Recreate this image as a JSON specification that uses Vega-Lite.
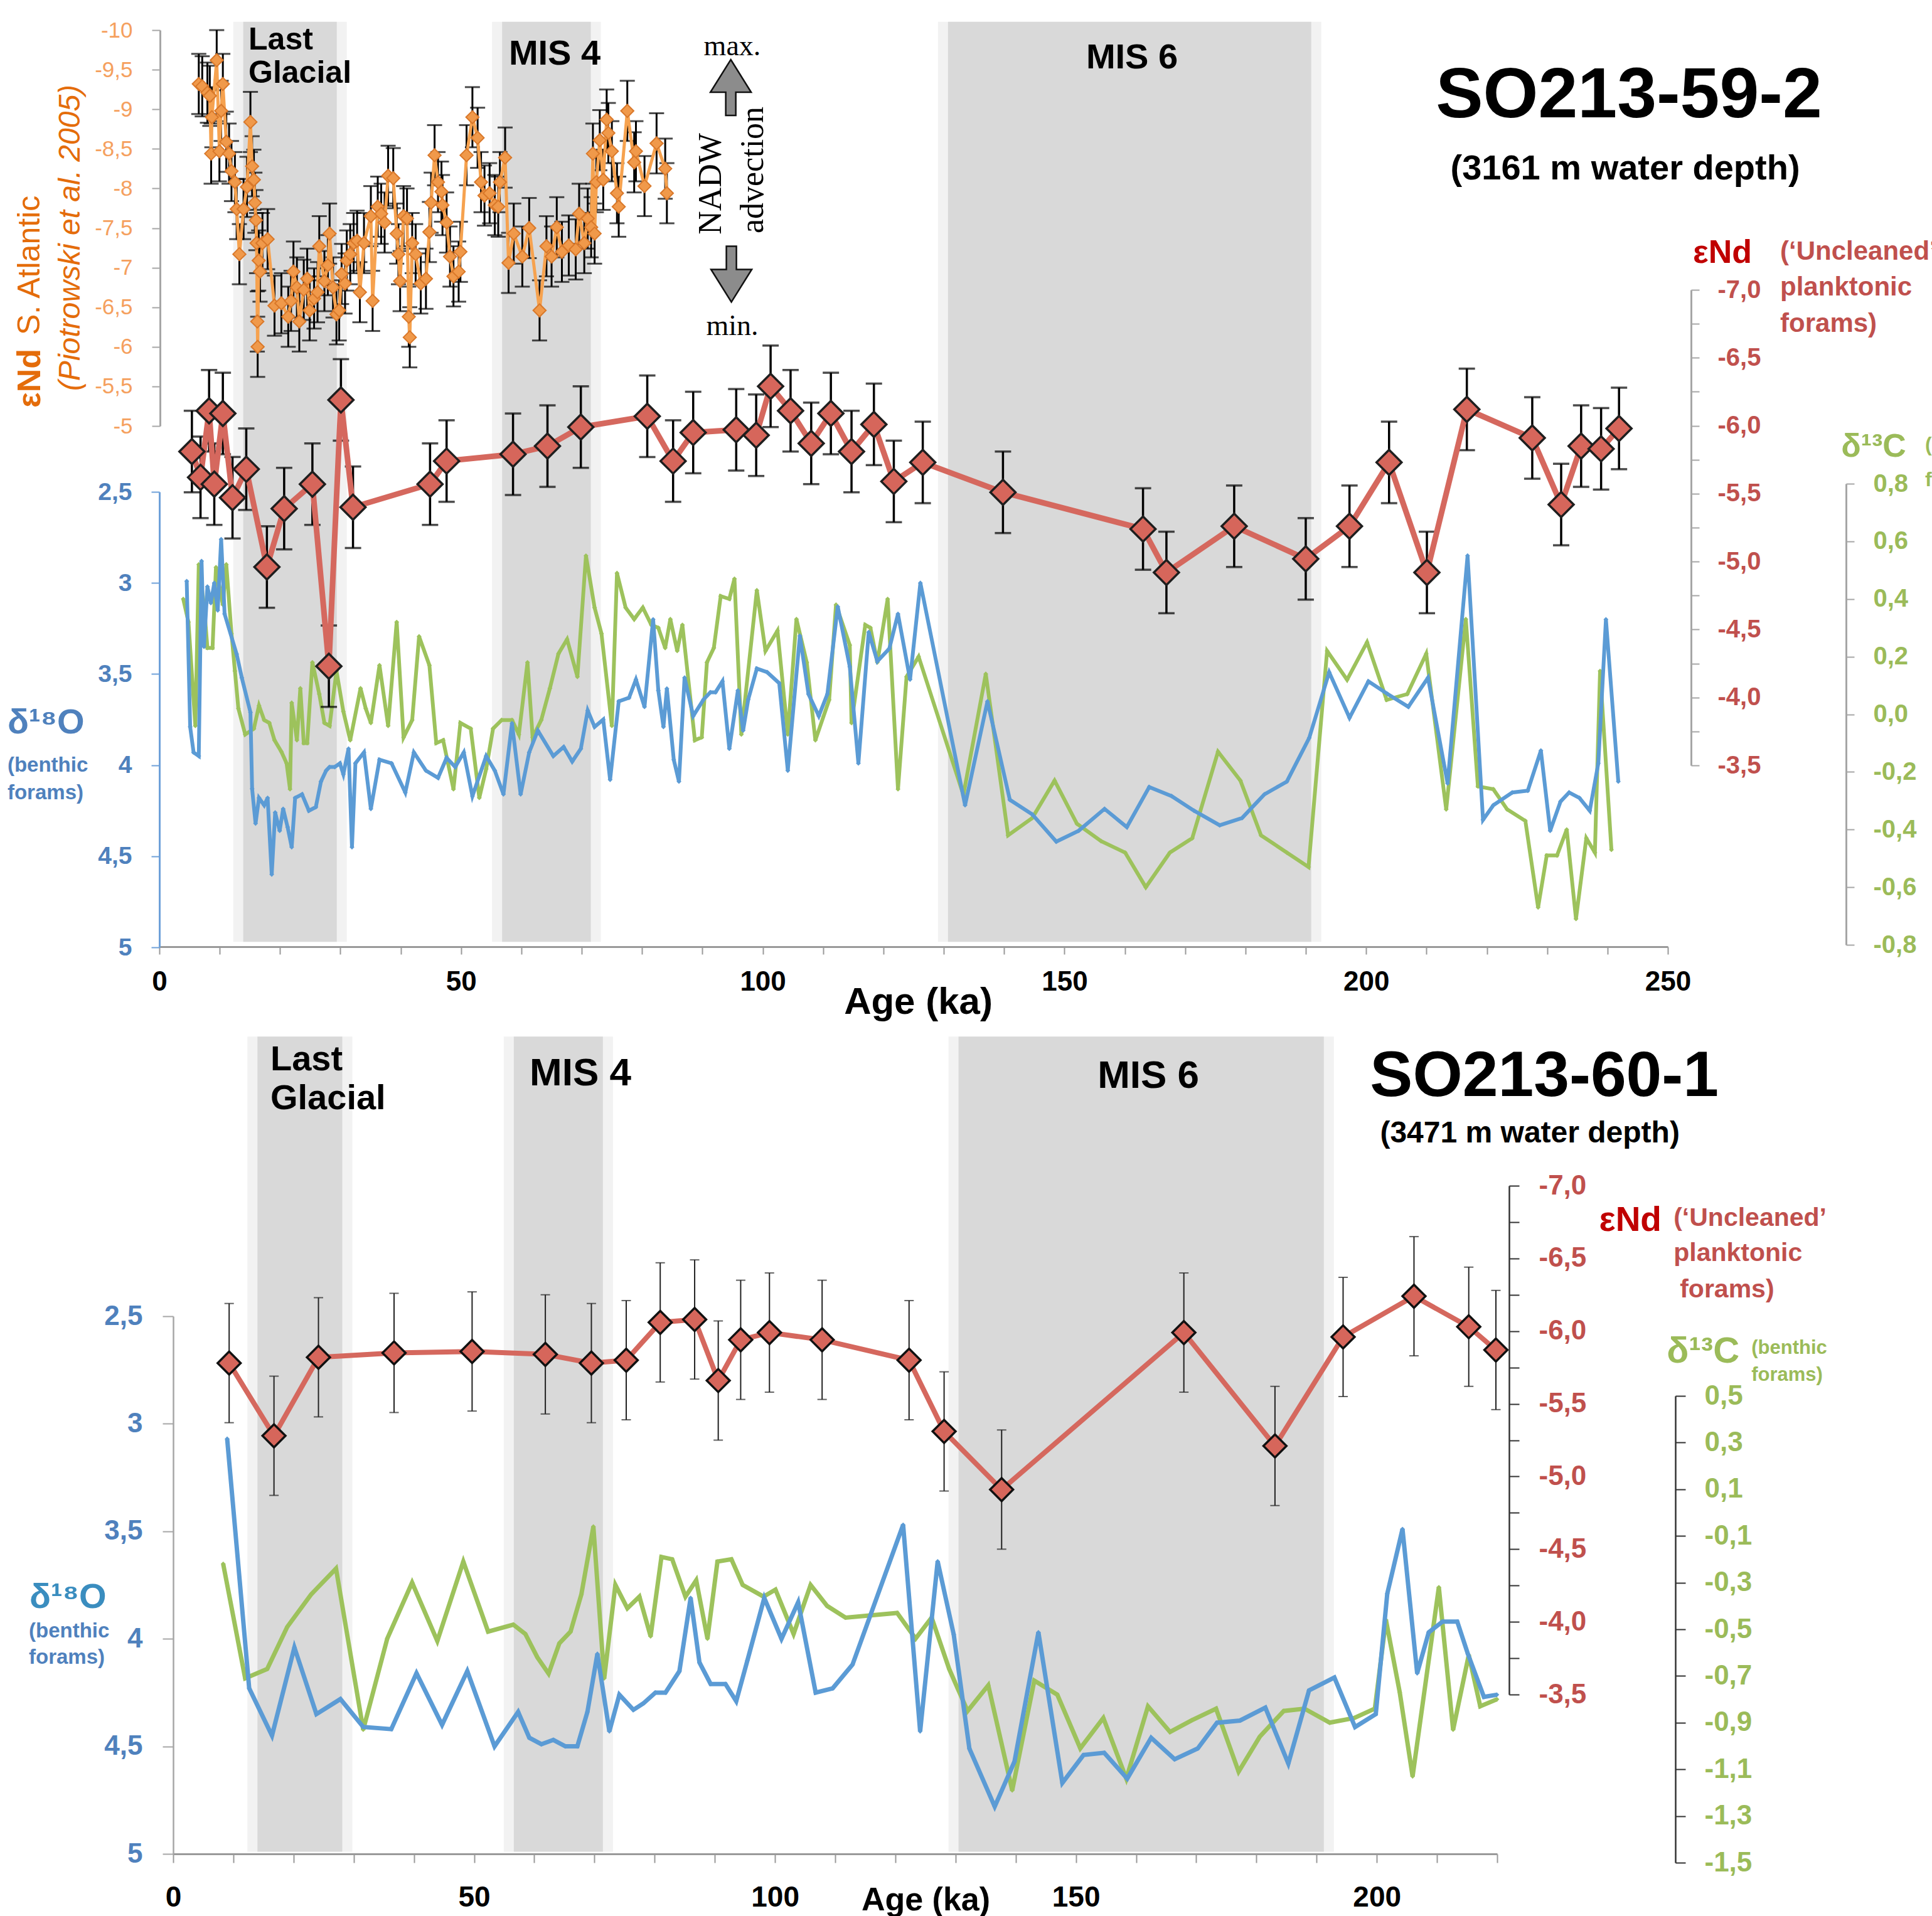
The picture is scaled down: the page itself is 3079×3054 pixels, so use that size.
{
"$schema":"https://vega.github.io/schema/vega-lite/v6.json",
"width":3079,"height":3054,"padding":0,"autosize":{"type":"none"},"background":"#ffffff",
"config":{"view":{"stroke":null},"axis":{"grid":false,"labelFont":"Liberation Sans","titleFont":"Liberation Sans","labelFlush":false,"labelOverlap":false},"text":{"font":"Liberation Sans"}},
"datasets":{
"bandsTop":[{"stage":"Last Glacial","start":13.9,"end":29.4},{"stage":"MIS 4","start":56.8,"end":71.5},{"stage":"MIS 6","start":130.7,"end":190.9}],
"bandsBot":[{"stage":"Last Glacial","start":14.0,"end":28.1},{"stage":"MIS 4","start":56.6,"end":71.4},{"stage":"MIS 6","start":130.5,"end":191.2}],
"orangeTop":[{"age":6.53,"v":-9.32,"e":0.38},{"age":7.10,"v":-9.29,"e":0.38},{"age":7.96,"v":-9.21,"e":0.38},{"age":8.36,"v":-9.17,"e":0.38},{"age":8.58,"v":-8.44,"e":0.38},{"age":8.70,"v":-8.90,"e":0.38},{"age":9.50,"v":-9.62,"e":0.38},{"age":9.95,"v":-8.47,"e":0.38},{"age":10.24,"v":-8.98,"e":0.38},{"age":10.52,"v":-9.32,"e":0.38},{"age":11.09,"v":-8.59,"e":0.38},{"age":11.55,"v":-8.44,"e":0.38},{"age":11.95,"v":-8.22,"e":0.38},{"age":12.52,"v":-8.08,"e":0.38},{"age":12.81,"v":-7.74,"e":0.38},{"age":13.26,"v":-7.17,"e":0.38},{"age":13.95,"v":-7.74,"e":0.38},{"age":14.52,"v":-8.02,"e":0.38},{"age":15.09,"v":-8.84,"e":0.38},{"age":15.37,"v":-8.28,"e":0.38},{"age":15.66,"v":-8.11,"e":0.38},{"age":15.83,"v":-7.82,"e":0.38},{"age":16.00,"v":-7.60,"e":0.38},{"age":16.11,"v":-7.31,"e":0.38},{"age":16.23,"v":-6.32,"e":0.38},{"age":16.29,"v":-6.00,"e":0.38},{"age":16.46,"v":-7.09,"e":0.38},{"age":16.68,"v":-6.95,"e":0.38},{"age":17.08,"v":-7.31,"e":0.38},{"age":17.94,"v":-7.36,"e":0.38},{"age":19.08,"v":-6.52,"e":0.38},{"age":20.22,"v":-6.55,"e":0.38},{"age":21.36,"v":-6.38,"e":0.38},{"age":21.82,"v":-6.58,"e":0.38},{"age":22.22,"v":-6.95,"e":0.38},{"age":22.79,"v":-6.75,"e":0.38},{"age":23.19,"v":-6.32,"e":0.38},{"age":23.93,"v":-6.72,"e":0.38},{"age":24.50,"v":-6.86,"e":0.38},{"age":24.90,"v":-6.46,"e":0.38},{"age":25.64,"v":-6.61,"e":0.38},{"age":26.21,"v":-6.69,"e":0.38},{"age":26.50,"v":-7.27,"e":0.38},{"age":27.35,"v":-6.83,"e":0.38},{"age":27.92,"v":-7.03,"e":0.38},{"age":28.21,"v":-7.43,"e":0.38},{"age":28.78,"v":-6.75,"e":0.38},{"age":29.35,"v":-6.41,"e":0.38},{"age":29.80,"v":-6.46,"e":0.38},{"age":30.20,"v":-6.92,"e":0.38},{"age":30.77,"v":-6.80,"e":0.38},{"age":31.06,"v":-7.09,"e":0.38},{"age":31.63,"v":-7.17,"e":0.38},{"age":32.20,"v":-7.31,"e":0.38},{"age":32.77,"v":-7.34,"e":0.38},{"age":33.23,"v":-6.69,"e":0.38},{"age":33.91,"v":-7.31,"e":0.38},{"age":35.05,"v":-7.65,"e":0.38},{"age":35.34,"v":-6.58,"e":0.38},{"age":36.19,"v":-7.77,"e":0.38},{"age":36.76,"v":-7.68,"e":0.38},{"age":37.33,"v":-7.57,"e":0.38},{"age":37.91,"v":-8.16,"e":0.38},{"age":38.76,"v":-8.13,"e":0.38},{"age":39.33,"v":-7.43,"e":0.38},{"age":39.62,"v":-7.17,"e":0.38},{"age":39.90,"v":-6.83,"e":0.38},{"age":40.47,"v":-7.65,"e":0.38},{"age":41.04,"v":-7.62,"e":0.38},{"age":41.33,"v":-6.38,"e":0.38},{"age":41.50,"v":-6.12,"e":0.38},{"age":41.90,"v":-7.31,"e":0.38},{"age":42.47,"v":-7.17,"e":0.38},{"age":43.32,"v":-6.80,"e":0.38},{"age":44.18,"v":-6.86,"e":0.38},{"age":44.75,"v":-7.45,"e":0.38},{"age":45.04,"v":-7.82,"e":0.38},{"age":45.61,"v":-8.42,"e":0.38},{"age":46.18,"v":-8.08,"e":0.38},{"age":46.75,"v":-7.96,"e":0.38},{"age":46.92,"v":-7.79,"e":0.38},{"age":47.60,"v":-7.57,"e":0.38},{"age":48.17,"v":-7.14,"e":0.38},{"age":48.74,"v":-6.89,"e":0.38},{"age":49.60,"v":-6.95,"e":0.38},{"age":49.89,"v":-7.20,"e":0.38},{"age":50.91,"v":-8.42,"e":0.38},{"age":51.88,"v":-8.90,"e":0.38},{"age":52.74,"v":-8.64,"e":0.38},{"age":53.31,"v":-8.08,"e":0.38},{"age":53.88,"v":-7.91,"e":0.38},{"age":54.73,"v":-7.94,"e":0.38},{"age":55.59,"v":-7.79,"e":0.38},{"age":56.16,"v":-7.77,"e":0.38},{"age":56.44,"v":-8.08,"e":0.38},{"age":57.30,"v":-8.39,"e":0.38},{"age":57.87,"v":-7.06,"e":0.38},{"age":58.73,"v":-7.43,"e":0.38},{"age":60.15,"v":-7.14,"e":0.38},{"age":61.29,"v":-7.50,"e":0.38},{"age":63.01,"v":-6.46,"e":0.38},{"age":64.15,"v":-7.27,"e":0.38},{"age":65.00,"v":-7.14,"e":0.38},{"age":65.86,"v":-7.51,"e":0.38},{"age":66.71,"v":-7.20,"e":0.38},{"age":67.85,"v":-7.28,"e":0.38},{"age":69.00,"v":-7.23,"e":0.38},{"age":69.57,"v":-7.68,"e":0.38},{"age":70.42,"v":-7.31,"e":0.38},{"age":70.99,"v":-7.62,"e":0.38},{"age":71.56,"v":-7.51,"e":0.38},{"age":71.85,"v":-8.44,"e":0.38},{"age":72.13,"v":-7.43,"e":0.38},{"age":72.42,"v":-8.08,"e":0.38},{"age":72.99,"v":-8.61,"e":0.38},{"age":73.56,"v":-8.11,"e":0.38},{"age":74.13,"v":-8.87,"e":0.38},{"age":74.41,"v":-8.70,"e":0.38},{"age":74.99,"v":-8.47,"e":0.38},{"age":75.84,"v":-7.94,"e":0.38},{"age":76.13,"v":-7.77,"e":0.38},{"age":77.55,"v":-8.98,"e":0.38},{"age":78.69,"v":-8.33,"e":0.38},{"age":78.98,"v":-8.47,"e":0.38},{"age":80.40,"v":-8.03,"e":0.38},{"age":82.40,"v":-8.57,"e":0.38},{"age":83.83,"v":-8.25,"e":0.38},{"age":84.11,"v":-7.94,"e":0.38}],
"redTop":[{"age":5.39,"v":-5.81,"e":0.3},{"age":6.82,"v":-5.62,"e":0.3},{"age":8.24,"v":-6.11,"e":0.3},{"age":9.10,"v":-5.57,"e":0.3},{"age":10.52,"v":-6.09,"e":0.3},{"age":12.12,"v":-5.47,"e":0.3},{"age":14.40,"v":-5.68,"e":0.3},{"age":17.82,"v":-4.96,"e":0.3},{"age":20.68,"v":-5.39,"e":0.3},{"age":25.36,"v":-5.57,"e":0.3},{"age":28.09,"v":-4.23,"e":0.3},{"age":30.09,"v":-6.19,"e":0.3},{"age":32.09,"v":-5.40,"e":0.3},{"age":44.86,"v":-5.57,"e":0.3},{"age":47.60,"v":-5.74,"e":0.3},{"age":58.61,"v":-5.79,"e":0.3},{"age":64.32,"v":-5.85,"e":0.3},{"age":69.85,"v":-5.99,"e":0.3},{"age":80.86,"v":-6.07,"e":0.3},{"age":85.14,"v":-5.74,"e":0.3},{"age":88.47,"v":-5.95,"e":0.3},{"age":95.60,"v":-5.97,"e":0.3},{"age":98.91,"v":-5.93,"e":0.3},{"age":101.30,"v":-6.29,"e":0.3},{"age":104.61,"v":-6.11,"e":0.3},{"age":108.03,"v":-5.87,"e":0.3},{"age":111.29,"v":-6.09,"e":0.3},{"age":114.71,"v":-5.81,"e":0.3},{"age":118.42,"v":-6.01,"e":0.3},{"age":121.72,"v":-5.59,"e":0.3},{"age":126.52,"v":-5.73,"e":0.3},{"age":139.81,"v":-5.51,"e":0.3},{"age":163.02,"v":-5.24,"e":0.3},{"age":166.90,"v":-4.92,"e":0.3},{"age":178.13,"v":-5.26,"e":0.3},{"age":189.99,"v":-5.02,"e":0.3},{"age":197.24,"v":-5.26,"e":0.3},{"age":203.80,"v":-5.73,"e":0.3},{"age":210.07,"v":-4.92,"e":0.3},{"age":216.69,"v":-6.12,"e":0.3},{"age":227.53,"v":-5.91,"e":0.3},{"age":232.32,"v":-5.42,"e":0.3},{"age":235.63,"v":-5.85,"e":0.3},{"age":238.94,"v":-5.83,"e":0.3},{"age":241.91,"v":-5.98,"e":0.3}],
"blueTop":[{"age":4.53,"v":2.99},{"age":5.10,"v":3.79},{"age":5.67,"v":3.93},{"age":6.53,"v":3.95},{"age":6.99,"v":2.88},{"age":7.39,"v":3.35},{"age":7.96,"v":3.02},{"age":8.53,"v":3.11},{"age":9.10,"v":3.00},{"age":9.67,"v":3.15},{"age":10.24,"v":2.76},{"age":10.81,"v":3.17},{"age":12.80,"v":3.39},{"age":13.66,"v":3.52},{"age":15.09,"v":3.71},{"age":15.37,"v":4.13},{"age":15.94,"v":4.32},{"age":16.51,"v":4.18},{"age":17.37,"v":4.22},{"age":17.94,"v":4.18},{"age":18.62,"v":4.60},{"age":19.19,"v":4.26},{"age":19.94,"v":4.36},{"age":20.51,"v":4.24},{"age":21.25,"v":4.34},{"age":21.93,"v":4.45},{"age":22.50,"v":4.18},{"age":23.64,"v":4.16},{"age":24.78,"v":4.25},{"age":25.93,"v":4.23},{"age":26.78,"v":4.09},{"age":27.64,"v":4.03},{"age":28.21,"v":4.01},{"age":29.06,"v":4.01},{"age":29.92,"v":3.99},{"age":30.49,"v":4.05},{"age":31.35,"v":3.91},{"age":31.92,"v":4.45},{"age":32.49,"v":3.99},{"age":33.91,"v":3.93},{"age":35.05,"v":4.24},{"age":36.48,"v":3.97},{"age":38.48,"v":3.99},{"age":40.76,"v":4.15},{"age":42.18,"v":3.93},{"age":44.18,"v":4.03},{"age":46.18,"v":4.07},{"age":47.60,"v":3.96},{"age":49.03,"v":4.01},{"age":50.45,"v":3.93},{"age":51.88,"v":4.17},{"age":54.16,"v":3.95},{"age":55.59,"v":4.03},{"age":57.02,"v":4.16},{"age":58.44,"v":3.77},{"age":59.87,"v":4.16},{"age":61.29,"v":3.93},{"age":62.72,"v":3.81},{"age":65.29,"v":3.95},{"age":67.00,"v":3.90},{"age":68.42,"v":3.98},{"age":69.85,"v":3.91},{"age":70.99,"v":3.70},{"age":72.13,"v":3.79},{"age":73.56,"v":3.75},{"age":74.70,"v":4.08},{"age":76.13,"v":3.65},{"age":77.84,"v":3.63},{"age":78.98,"v":3.53},{"age":80.40,"v":3.68},{"age":81.83,"v":3.20},{"age":82.69,"v":3.59},{"age":83.54,"v":3.79},{"age":84.11,"v":3.58},{"age":85.25,"v":3.97},{"age":86.11,"v":4.09},{"age":87.04,"v":3.52},{"age":88.47,"v":3.73},{"age":90.18,"v":3.64},{"age":91.32,"v":3.60},{"age":92.17,"v":3.60},{"age":93.32,"v":3.54},{"age":94.46,"v":3.91},{"age":95.88,"v":3.59},{"age":96.74,"v":3.81},{"age":97.59,"v":3.64},{"age":99.02,"v":3.47},{"age":100.73,"v":3.49},{"age":102.73,"v":3.55},{"age":104.15,"v":4.03},{"age":106.15,"v":3.29},{"age":107.58,"v":3.61},{"age":109.29,"v":3.73},{"age":110.71,"v":3.61},{"age":112.43,"v":3.13},{"age":114.42,"v":3.46},{"age":115.85,"v":3.99},{"age":117.56,"v":3.27},{"age":118.99,"v":3.43},{"age":120.98,"v":3.36},{"age":122.41,"v":3.17},{"age":124.41,"v":3.53},{"age":126.12,"v":3.00},{"age":133.53,"v":4.22},{"age":137.24,"v":3.65},{"age":140.95,"v":4.19},{"age":144.66,"v":4.27},{"age":148.65,"v":4.42},{"age":152.36,"v":4.36},{"age":156.64,"v":4.24},{"age":160.34,"v":4.34},{"age":164.05,"v":4.12},{"age":167.76,"v":4.17},{"age":171.47,"v":4.25},{"age":175.73,"v":4.33},{"age":179.44,"v":4.29},{"age":183.15,"v":4.16},{"age":186.86,"v":4.09},{"age":190.57,"v":3.85},{"age":193.87,"v":3.49},{"age":197.24,"v":3.74},{"age":200.38,"v":3.54},{"age":203.57,"v":3.61},{"age":206.99,"v":3.68},{"age":210.25,"v":3.52},{"age":213.50,"v":4.10},{"age":216.81,"v":2.85},{"age":219.37,"v":4.30},{"age":221.08,"v":4.22},{"age":224.22,"v":4.15},{"age":226.79,"v":4.14},{"age":228.96,"v":3.92},{"age":230.50,"v":4.36},{"age":232.21,"v":4.20},{"age":233.64,"v":4.15},{"age":235.35,"v":4.18},{"age":237.06,"v":4.25},{"age":238.48,"v":3.99},{"age":239.74,"v":3.20},{"age":241.79,"v":4.09}],
"greenTop":[{"age":3.96,"v":0.40},{"age":4.82,"v":0.32},{"age":5.96,"v":-0.04},{"age":6.53,"v":0.52},{"age":7.39,"v":0.38},{"age":7.96,"v":0.23},{"age":8.81,"v":0.23},{"age":9.38,"v":0.51},{"age":10.52,"v":0.38},{"age":11.09,"v":0.52},{"age":11.95,"v":0.28},{"age":12.52,"v":0.15},{"age":13.09,"v":0.02},{"age":14.23,"v":-0.07},{"age":15.66,"v":-0.05},{"age":16.51,"v":0.03},{"age":17.37,"v":-0.02},{"age":18.22,"v":-0.03},{"age":19.08,"v":-0.09},{"age":20.22,"v":-0.13},{"age":21.08,"v":-0.17},{"age":21.65,"v":-0.26},{"age":21.93,"v":0.04},{"age":22.79,"v":-0.09},{"age":23.36,"v":0.09},{"age":23.93,"v":-0.10},{"age":24.50,"v":-0.10},{"age":25.36,"v":0.18},{"age":26.50,"v":0.07},{"age":27.35,"v":-0.03},{"age":28.21,"v":-0.04},{"age":29.35,"v":0.15},{"age":30.49,"v":0.01},{"age":31.63,"v":-0.09},{"age":33.34,"v":0.09},{"age":34.20,"v":0.02},{"age":35.05,"v":-0.03},{"age":36.48,"v":0.17},{"age":37.91,"v":-0.04},{"age":39.33,"v":0.32},{"age":40.47,"v":-0.08},{"age":41.90,"v":-0.02},{"age":43.04,"v":0.27},{"age":44.75,"v":0.17},{"age":45.89,"v":-0.10},{"age":47.03,"v":-0.09},{"age":48.74,"v":-0.26},{"age":49.89,"v":-0.03},{"age":51.60,"v":-0.05},{"age":53.02,"v":-0.29},{"age":54.16,"v":-0.19},{"age":55.30,"v":-0.05},{"age":56.73,"v":-0.02},{"age":58.44,"v":-0.02},{"age":59.58,"v":-0.07},{"age":61.01,"v":0.18},{"age":61.86,"v":-0.08},{"age":63.29,"v":-0.02},{"age":64.72,"v":0.09},{"age":66.14,"v":0.21},{"age":67.57,"v":0.26},{"age":69.28,"v":0.13},{"age":70.70,"v":0.55},{"age":72.13,"v":0.37},{"age":73.27,"v":0.28},{"age":74.99,"v":-0.04},{"age":75.84,"v":0.49},{"age":77.27,"v":0.37},{"age":78.69,"v":0.33},{"age":80.12,"v":0.37},{"age":81.54,"v":0.31},{"age":82.69,"v":0.30},{"age":83.83,"v":0.23},{"age":84.68,"v":0.33},{"age":85.82,"v":0.22},{"age":86.68,"v":0.31},{"age":88.75,"v":-0.09},{"age":89.89,"v":-0.08},{"age":90.75,"v":0.18},{"age":91.89,"v":0.23},{"age":93.03,"v":0.41},{"age":94.46,"v":0.40},{"age":95.31,"v":0.47},{"age":96.45,"v":-0.07},{"age":99.02,"v":0.43},{"age":100.45,"v":0.22},{"age":102.44,"v":0.29},{"age":104.15,"v":-0.07},{"age":105.58,"v":0.33},{"age":107.29,"v":0.18},{"age":108.72,"v":-0.09},{"age":111.00,"v":0.05},{"age":112.14,"v":0.38},{"age":114.42,"v":0.24},{"age":114.71,"v":-0.03},{"age":116.99,"v":0.31},{"age":117.84,"v":0.30},{"age":118.99,"v":0.18},{"age":120.70,"v":0.40},{"age":122.41,"v":-0.26},{"age":123.83,"v":0.13},{"age":125.83,"v":0.20},{"age":133.25,"v":-0.28},{"age":136.96,"v":0.14},{"age":140.66,"v":-0.42},{"age":144.66,"v":-0.36},{"age":148.36,"v":-0.23},{"age":152.07,"v":-0.38},{"age":156.07,"v":-0.44},{"age":160.06,"v":-0.48},{"age":163.48,"v":-0.60},{"age":167.47,"v":-0.48},{"age":171.18,"v":-0.43},{"age":175.45,"v":-0.13},{"age":179.16,"v":-0.23},{"age":182.58,"v":-0.42},{"age":186.86,"v":-0.48},{"age":190.45,"v":-0.53},{"age":193.53,"v":0.22},{"age":196.84,"v":0.12},{"age":200.15,"v":0.25},{"age":203.40,"v":0.05},{"age":206.82,"v":0.07},{"age":209.96,"v":0.21},{"age":213.27,"v":-0.33},{"age":216.52,"v":0.33},{"age":218.52,"v":-0.25},{"age":221.08,"v":-0.26},{"age":223.37,"v":-0.33},{"age":226.39,"v":-0.37},{"age":228.50,"v":-0.67},{"age":229.93,"v":-0.49},{"age":231.64,"v":-0.49},{"age":233.24,"v":-0.40},{"age":234.78,"v":-0.71},{"age":236.49,"v":-0.43},{"age":237.91,"v":-0.48},{"age":238.77,"v":0.15},{"age":240.65,"v":-0.47}],
"redBot":[{"age":9.30,"v":-5.78,"e":0.41},{"age":16.75,"v":-5.28,"e":0.41},{"age":24.14,"v":-5.82,"e":0.41},{"age":36.70,"v":-5.85,"e":0.41},{"age":49.67,"v":-5.86,"e":0.41},{"age":61.84,"v":-5.84,"e":0.41},{"age":69.49,"v":-5.78,"e":0.41},{"age":75.28,"v":-5.80,"e":0.41},{"age":80.93,"v":-6.06,"e":0.41},{"age":86.65,"v":-6.08,"e":0.41},{"age":90.57,"v":-5.66,"e":0.41},{"age":94.30,"v":-5.94,"e":0.41},{"age":99.08,"v":-5.99,"e":0.41},{"age":107.83,"v":-5.94,"e":0.41},{"age":122.28,"v":-5.80,"e":0.41},{"age":128.10,"v":-5.31,"e":0.41},{"age":137.66,"v":-4.91,"e":0.41},{"age":167.94,"v":-5.99,"e":0.41},{"age":183.08,"v":-5.21,"e":0.41},{"age":194.40,"v":-5.96,"e":0.41},{"age":206.18,"v":-6.24,"e":0.41},{"age":215.28,"v":-6.03,"e":0.41},{"age":219.79,"v":-5.87,"e":0.41}],
"blueBot":[{"age":8.97,"v":3.07},{"age":12.63,"v":4.23},{"age":16.42,"v":4.45},{"age":20.14,"v":4.04},{"age":23.80,"v":4.35},{"age":27.79,"v":4.28},{"age":31.58,"v":4.41},{"age":36.24,"v":4.42},{"age":40.43,"v":4.16},{"age":44.68,"v":4.40},{"age":48.87,"v":4.15},{"age":53.40,"v":4.50},{"age":57.32,"v":4.34},{"age":59.18,"v":4.46},{"age":61.18,"v":4.49},{"age":63.17,"v":4.47},{"age":65.17,"v":4.50},{"age":67.16,"v":4.50},{"age":68.83,"v":4.34},{"age":70.49,"v":4.07},{"age":72.48,"v":4.43},{"age":74.14,"v":4.26},{"age":76.47,"v":4.33},{"age":78.14,"v":4.30},{"age":80.13,"v":4.25},{"age":81.80,"v":4.25},{"age":84.12,"v":4.15},{"age":85.98,"v":3.81},{"age":87.45,"v":4.11},{"age":89.31,"v":4.21},{"age":91.77,"v":4.21},{"age":93.56,"v":4.29},{"age":95.42,"v":4.10},{"age":98.22,"v":3.81},{"age":101.08,"v":4.00},{"age":103.85,"v":3.83},{"age":106.76,"v":4.25},{"age":109.59,"v":4.23},{"age":112.88,"v":4.12},{"age":121.29,"v":3.47},{"age":124.12,"v":4.43},{"age":127.03,"v":3.64},{"age":129.70,"v":3.98},{"age":132.30,"v":4.51},{"age":136.51,"v":4.78},{"age":139.80,"v":4.57},{"age":143.77,"v":3.97},{"age":147.75,"v":4.67},{"age":151.27,"v":4.54},{"age":154.71,"v":4.53},{"age":158.53,"v":4.65},{"age":162.51,"v":4.46},{"age":166.41,"v":4.56},{"age":170.24,"v":4.51},{"age":173.45,"v":4.39},{"age":177.27,"v":4.38},{"age":181.48,"v":4.32},{"age":185.30,"v":4.58},{"age":188.74,"v":4.24},{"age":192.95,"v":4.18},{"age":196.39,"v":4.41},{"age":199.83,"v":4.35},{"age":201.74,"v":3.79},{"age":204.27,"v":3.49},{"age":206.71,"v":4.16},{"age":208.63,"v":3.97},{"age":210.92,"v":3.92},{"age":213.37,"v":3.92},{"age":215.13,"v":4.07},{"age":217.80,"v":4.27},{"age":219.94,"v":4.26}],
"greenBot":[{"age":8.31,"v":-0.22},{"age":11.96,"v":-0.71},{"age":15.62,"v":-0.67},{"age":18.95,"v":-0.49},{"age":22.94,"v":-0.35},{"age":27.06,"v":-0.24},{"age":31.58,"v":-0.93},{"age":35.57,"v":-0.54},{"age":39.70,"v":-0.30},{"age":43.89,"v":-0.55},{"age":48.21,"v":-0.21},{"age":52.33,"v":-0.51},{"age":56.52,"v":-0.48},{"age":58.52,"v":-0.52},{"age":60.51,"v":-0.62},{"age":62.38,"v":-0.69},{"age":64.17,"v":-0.56},{"age":66.03,"v":-0.51},{"age":67.83,"v":-0.35},{"age":69.82,"v":-0.06},{"age":71.62,"v":-0.71},{"age":73.48,"v":-0.31},{"age":75.47,"v":-0.41},{"age":77.47,"v":-0.36},{"age":79.33,"v":-0.53},{"age":81.13,"v":-0.19},{"age":82.92,"v":-0.20},{"age":85.12,"v":-0.36},{"age":86.91,"v":-0.29},{"age":88.78,"v":-0.54},{"age":90.44,"v":-0.21},{"age":92.76,"v":-0.20},{"age":94.63,"v":-0.31},{"age":98.09,"v":-0.36},{"age":100.08,"v":-0.33},{"age":103.09,"v":-0.52},{"age":105.92,"v":-0.31},{"age":108.67,"v":-0.40},{"age":111.73,"v":-0.45},{"age":120.30,"v":-0.43},{"age":123.36,"v":-0.54},{"age":126.03,"v":-0.45},{"age":128.94,"v":-0.67},{"age":132.00,"v":-0.85},{"age":135.44,"v":-0.74},{"age":139.42,"v":-1.19},{"age":143.09,"v":-0.72},{"age":146.91,"v":-0.78},{"age":150.73,"v":-1.01},{"age":154.56,"v":-0.88},{"age":158.38,"v":-1.14},{"age":161.98,"v":-0.83},{"age":165.65,"v":-0.94},{"age":169.24,"v":-0.89},{"age":173.29,"v":-0.84},{"age":177.04,"v":-1.11},{"age":180.56,"v":-0.96},{"age":184.54,"v":-0.85},{"age":187.98,"v":-0.84},{"age":192.18,"v":-0.90},{"age":196.24,"v":-0.88},{"age":199.68,"v":-0.84},{"age":201.52,"v":-0.46},{"age":203.81,"v":-0.77},{"age":205.95,"v":-1.13},{"age":210.31,"v":-0.32},{"age":212.68,"v":-0.93},{"age":215.28,"v":-0.61},{"age":217.19,"v":-0.83},{"age":219.95,"v":-0.80}]
},
"layer":[
{"data":{"name":"bandsTop"},"mark":{"type":"rect","color":"#F2F2F2","xOffset":-16,"x2Offset":16},"encoding":{"x":{"field":"start","type":"quantitative","scale":{"domain":[0,250],"range":[254,2658],"nice":false,"zero":false},"axis":null},"x2":{"field":"end"},"y":{"datum":4.97,"type":"quantitative","scale":{"domain":[2.5,5],"range":[784,1510],"nice":false,"zero":false},"axis":null},"y2":{"datum":-0.08}}},
{"data":{"name":"bandsTop"},"mark":{"type":"rect","color":"#D9D9D9"},"encoding":{"x":{"field":"start","type":"quantitative","scale":{"domain":[0,250],"range":[254,2658],"nice":false,"zero":false},"axis":null},"x2":{"field":"end"},"y":{"datum":4.97,"type":"quantitative","scale":{"domain":[2.5,5],"range":[784,1510],"nice":false,"zero":false},"axis":null},"y2":{"datum":-0.08}}},
{"data":{"name":"greenTop"},"mark":{"type":"line","color":"#9DC25C","strokeWidth":6},"encoding":{"x":{"field":"age","type":"quantitative","scale":{"domain":[0,250],"range":[254,2658],"nice":false,"zero":false},"axis":null},"y":{"field":"v","type":"quantitative","scale":{"domain":[-0.8,0.8],"range":[1506,771],"nice":false,"zero":false},"axis":{"orient":"right","offset":-137,"values":[-0.8,-0.6,-0.4,-0.2,0,0.2,0.4,0.6,0.8],"labelExpr":"replace(replace(format(datum.value,'.1f'),'−','-'),'.',',')","title":null,"labelColor":"#9BBB59","labelFontSize":40,"labelFontWeight":"bold","tickSize":13,"tickWidth":2,"tickColor":"#A6A6A6","domainColor":"#A6A6A6","domainWidth":3,"labelPadding":30}}}},
{"data":{"name":"greenTop"},"mark":{"type":"point","shape":"diamond","filled":true,"color":"#9DC25C","size":60,"opacity":1},"encoding":{"x":{"field":"age","type":"quantitative","scale":{"domain":[0,250],"range":[254,2658],"nice":false,"zero":false},"axis":null},"y":{"field":"v","type":"quantitative","scale":{"domain":[-0.8,0.8],"range":[1506,771],"nice":false,"zero":false},"axis":null}}},
{"data":{"name":"blueTop"},"mark":{"type":"line","color":"#5B9BD5","strokeWidth":6},"encoding":{"x":{"field":"age","type":"quantitative","scale":{"domain":[0,250],"range":[254,2658],"nice":false,"zero":false},"axis":{"orient":"bottom","offset":-1545,"values":[0,10,20,30,40,50,60,70,80,90,100,110,120,130,140,150,160,170,180,190,200,210,220,230,240,250],"labelExpr":"datum.value % 50 === 0 ? datum.label : ''","title":"Age (ka)","titleX":1463,"titleY":88,"titleBaseline":"middle","titleAlign":"center","titleFontSize":60,"titleFontWeight":"bold","titleColor":"#000000","labelFontSize":44,"labelFontWeight":"bold","labelColor":"#000000","labelBaseline":"middle","labelPadding":44,"tickSize":12,"tickWidth":2,"tickColor":"#999999","domainColor":"#999999","domainWidth":3}},"y":{"field":"v","type":"quantitative","scale":{"domain":[2.5,5],"range":[784,1510],"nice":false,"zero":false},"axis":{"orient":"left","offset":-254,"values":[2.5,3,3.5,4,4.5,5],"labelExpr":"replace(replace(format(datum.value,'~g'),'−','-'),'.',',')","title":null,"labelColor":"#4F81BD","labelFontSize":39,"labelFontWeight":"bold","tickSize":13,"tickWidth":2,"tickColor":"#6FA1D9","domainColor":"#6FA1D9","domainWidth":3,"labelPadding":31}}}},
{"data":{"name":"blueTop"},"mark":{"type":"point","shape":"diamond","filled":true,"color":"#5B9BD5","size":60,"opacity":1},"encoding":{"x":{"field":"age","type":"quantitative","scale":{"domain":[0,250],"range":[254,2658],"nice":false,"zero":false},"axis":null},"y":{"field":"v","type":"quantitative","scale":{"domain":[2.5,5],"range":[784,1510],"nice":false,"zero":false},"axis":null}}},
{"data":{"name":"orangeTop"},"mark":{"type":"errorbar","ticks":true,"size":24,"thickness":3,"color":"#000000"},"encoding":{"x":{"field":"age","type":"quantitative","scale":{"domain":[0,250],"range":[254,2658],"nice":false,"zero":false},"axis":null},"y":{"field":"v","type":"quantitative","scale":{"domain":[-10,-5],"range":[48,679],"nice":false,"zero":false},"axis":null},"yError":{"field":"e"}}},
{"data":{"name":"orangeTop"},"mark":{"type":"line","color":"#F6A24F","strokeWidth":5},"encoding":{"x":{"field":"age","type":"quantitative","scale":{"domain":[0,250],"range":[254,2658],"nice":false,"zero":false},"axis":null},"y":{"field":"v","type":"quantitative","scale":{"domain":[-10,-5],"range":[48,679],"nice":false,"zero":false},"axis":{"orient":"left","offset":-255,"values":[-10,-9.5,-9,-8.5,-8,-7.5,-7,-6.5,-6,-5.5,-5],"labelExpr":"replace(replace(format(datum.value,'~g'),'−','-'),'.',',')","title":null,"labelColor":"#F5A05E","labelFontSize":35,"labelFontWeight":"normal","tickSize":13,"tickWidth":2,"tickColor":"#A6A6A6","domainColor":"#A6A6A6","domainWidth":3,"labelPadding":31}}}},
{"data":{"name":"orangeTop"},"mark":{"type":"point","shape":"diamond","filled":true,"color":"#F0994A","stroke":"#D9782A","strokeWidth":2,"size":420,"opacity":1},"encoding":{"x":{"field":"age","type":"quantitative","scale":{"domain":[0,250],"range":[254,2658],"nice":false,"zero":false},"axis":null},"y":{"field":"v","type":"quantitative","scale":{"domain":[-10,-5],"range":[48,679],"nice":false,"zero":false},"axis":null}}},
{"data":{"name":"redTop"},"mark":{"type":"errorbar","ticks":true,"size":26,"thickness":3.5,"color":"#000000"},"encoding":{"x":{"field":"age","type":"quantitative","scale":{"domain":[0,250],"range":[254,2658],"nice":false,"zero":false},"axis":null},"y":{"field":"v","type":"quantitative","scale":{"domain":[-7,-3.5],"range":[462,1220],"nice":false,"zero":false},"axis":null},"yError":{"field":"e"}}},
{"data":{"name":"redTop"},"mark":{"type":"line","color":"#D5685E","strokeWidth":9},"encoding":{"x":{"field":"age","type":"quantitative","scale":{"domain":[0,250],"range":[254,2658],"nice":false,"zero":false},"axis":null},"y":{"field":"v","type":"quantitative","scale":{"domain":[-7,-3.5],"range":[462,1220],"nice":false,"zero":false},"axis":{"orient":"right","offset":-384,"values":[-7,-6.75,-6.5,-6.25,-6,-5.75,-5.5,-5.25,-5,-4.75,-4.5,-4.25,-4,-3.75,-3.5],"labelExpr":"abs(datum.value*2-round(datum.value*2))<0.001 ? replace(replace(format(datum.value,'.1f'),'−','-'),'.',',') : ''","title":null,"labelColor":"#C0504D","labelFontSize":40,"labelFontWeight":"bold","tickSize":13,"tickWidth":2,"tickColor":"#A6A6A6","domainColor":"#A6A6A6","domainWidth":3,"labelPadding":29}}}},
{"data":{"name":"redTop"},"mark":{"type":"point","shape":"diamond","filled":true,"color":"#D6665B","stroke":"#1E1E1E","strokeWidth":3.5,"size":1600,"opacity":1},"encoding":{"x":{"field":"age","type":"quantitative","scale":{"domain":[0,250],"range":[254,2658],"nice":false,"zero":false},"axis":null},"y":{"field":"v","type":"quantitative","scale":{"domain":[-7,-3.5],"range":[462,1220],"nice":false,"zero":false},"axis":null}}},
{"data":{"values":[{"dir":"up","age":94.7,"v":-9.275},{"dir":"down","age":94.8,"v":-6.918}]},"mark":{"type":"point","filled":true,"fill":"#8C8C8C","stroke":"#111111","strokeWidth":2.5,"size":7921,"opacity":1},"encoding":{"x":{"field":"age","type":"quantitative","scale":{"domain":[0,250],"range":[254,2658],"nice":false,"zero":false},"axis":null},"y":{"field":"v","type":"quantitative","scale":{"domain":[-10,-5],"range":[48,679],"nice":false,"zero":false},"axis":null},"shape":{"field":"dir","type":"nominal","scale":{"domain":["up","down"],"range":["M0,-1L0.73,0.17L0.18,0.17L0.18,1L-0.18,1L-0.18,0.17L-0.73,0.17Z","M0,1L0.73,-0.17L0.18,-0.17L0.18,-1L-0.18,-1L-0.18,-0.17L-0.73,-0.17Z"]},"legend":null}}},
{"data":{"values":[{"t":"Last","age":14.77,"v":-9.873},{"t":"Glacial","age":14.77,"v":-9.453}]},"mark":{"type":"text","fontSize":50,"fontWeight":"bold","color":"#000000","align":"left","baseline":"middle"},"encoding":{"x":{"field":"age","type":"quantitative","scale":{"domain":[0,250],"range":[254,2658],"nice":false,"zero":false},"axis":null},"y":{"field":"v","type":"quantitative","scale":{"domain":[-10,-5],"range":[48,679],"nice":false,"zero":false},"axis":null},"text":{"field":"t"}}},
{"data":{"values":[{"t":"MIS 4","age":65.52,"v":-9.699},{"t":"MIS 6","age":161.19,"v":-9.651}]},"mark":{"type":"text","fontSize":56,"fontWeight":"bold","color":"#000000","align":"center","baseline":"middle"},"encoding":{"x":{"field":"age","type":"quantitative","scale":{"domain":[0,250],"range":[254,2658],"nice":false,"zero":false},"axis":null},"y":{"field":"v","type":"quantitative","scale":{"domain":[-10,-5],"range":[48,679],"nice":false,"zero":false},"axis":null},"text":{"field":"t"}}},
{"data":{"values":[{"t":"max.","age":94.94,"v":-9.794},{"t":"min.","age":94.94,"v":-6.26}]},"mark":{"type":"text","font":"Liberation Serif","fontSize":46,"color":"#000000","align":"center","baseline":"middle"},"encoding":{"x":{"field":"age","type":"quantitative","scale":{"domain":[0,250],"range":[254,2658],"nice":false,"zero":false},"axis":null},"y":{"field":"v","type":"quantitative","scale":{"domain":[-10,-5],"range":[48,679],"nice":false,"zero":false},"axis":null},"text":{"field":"t"}}},
{"data":{"values":[{"t":"NADW","age":91.41,"v":-8.059},{"t":"advection","age":98.38,"v":-8.233}]},"mark":{"type":"text","font":"Liberation Serif","fontSize":52,"color":"#000000","align":"center","baseline":"middle","angle":270},"encoding":{"x":{"field":"age","type":"quantitative","scale":{"domain":[0,250],"range":[254,2658],"nice":false,"zero":false},"axis":null},"y":{"field":"v","type":"quantitative","scale":{"domain":[-10,-5],"range":[48,679],"nice":false,"zero":false},"axis":null},"text":{"field":"t"}}},
{"data":{"values":[{"t":"SO213-59-2","age":243.55,"v":-9.168}]},"mark":{"type":"text","fontSize":113,"fontWeight":"bold","color":"#000000","align":"center","baseline":"middle"},"encoding":{"x":{"field":"age","type":"quantitative","scale":{"domain":[0,250],"range":[254,2658],"nice":false,"zero":false},"axis":null},"y":{"field":"v","type":"quantitative","scale":{"domain":[-10,-5],"range":[48,679],"nice":false,"zero":false},"axis":null},"text":{"field":"t"}}},
{"data":{"values":[{"t":"(3161 m water depth)","age":242.93,"v":-8.249}]},"mark":{"type":"text","fontSize":56,"fontWeight":"bold","color":"#000000","align":"center","baseline":"middle"},"encoding":{"x":{"field":"age","type":"quantitative","scale":{"domain":[0,250],"range":[254,2658],"nice":false,"zero":false},"axis":null},"y":{"field":"v","type":"quantitative","scale":{"domain":[-10,-5],"range":[48,679],"nice":false,"zero":false},"axis":null},"text":{"field":"t"}}},
{"data":{"values":[{"t":"εNd","age":259.05,"v":-7.187}]},"mark":{"type":"text","fontSize":52,"fontWeight":"bold","color":"#C00000","align":"center","baseline":"middle"},"encoding":{"x":{"field":"age","type":"quantitative","scale":{"domain":[0,250],"range":[254,2658],"nice":false,"zero":false},"axis":null},"y":{"field":"v","type":"quantitative","scale":{"domain":[-10,-5],"range":[48,679],"nice":false,"zero":false},"axis":null},"text":{"field":"t"}}},
{"data":{"values":[{"t":"(‘Uncleaned’","age":268.62,"v":-7.203},{"t":"planktonic","age":268.62,"v":-6.751},{"t":"forams)","age":268.62,"v":-6.292}]},"mark":{"type":"text","fontSize":42,"fontWeight":"bold","color":"#C0504D","align":"left","baseline":"middle"},"encoding":{"x":{"field":"age","type":"quantitative","scale":{"domain":[0,250],"range":[254,2658],"nice":false,"zero":false},"axis":null},"y":{"field":"v","type":"quantitative","scale":{"domain":[-10,-5],"range":[48,679],"nice":false,"zero":false},"axis":null},"text":{"field":"t"}}},
{"data":{"values":[{"t":"δ¹³C","age":284.11,"v":-4.739}]},"mark":{"type":"text","fontSize":52,"fontWeight":"bold","color":"#9BBB59","align":"center","baseline":"middle"},"encoding":{"x":{"field":"age","type":"quantitative","scale":{"domain":[0,250],"range":[254,2658],"nice":false,"zero":false},"axis":null},"y":{"field":"v","type":"quantitative","scale":{"domain":[-10,-5],"range":[48,679],"nice":false,"zero":false},"axis":null},"text":{"field":"t"}}},
{"data":{"values":[{"t":"(benthic","age":292.64,"v":-4.762},{"t":"forams)","age":292.64,"v":-4.319}]},"mark":{"type":"text","fontSize":32,"fontWeight":"bold","color":"#9BBB59","align":"left","baseline":"middle"},"encoding":{"x":{"field":"age","type":"quantitative","scale":{"domain":[0,250],"range":[254,2658],"nice":false,"zero":false},"axis":null},"y":{"field":"v","type":"quantitative","scale":{"domain":[-10,-5],"range":[48,679],"nice":false,"zero":false},"axis":null},"text":{"field":"t"}}},
{"data":{"values":[{"t":"εNd","age":-21.42,"v":-5.602}]},"mark":{"type":"text","fontSize":52,"fontWeight":"bold","color":"#E46C0A","align":"center","baseline":"middle","angle":270},"encoding":{"x":{"field":"age","type":"quantitative","scale":{"domain":[0,250],"range":[254,2658],"nice":false,"zero":false},"axis":null},"y":{"field":"v","type":"quantitative","scale":{"domain":[-10,-5],"range":[48,679],"nice":false,"zero":false},"axis":null},"text":{"field":"t"}}},
{"data":{"values":[{"t":"S. Atlantic","age":-21.42,"v":-7.029}]},"mark":{"type":"text","fontSize":50,"color":"#E46C0A","align":"center","baseline":"middle","angle":270},"encoding":{"x":{"field":"age","type":"quantitative","scale":{"domain":[0,250],"range":[254,2658],"nice":false,"zero":false},"axis":null},"y":{"field":"v","type":"quantitative","scale":{"domain":[-10,-5],"range":[48,679],"nice":false,"zero":false},"axis":null},"text":{"field":"t"}}},
{"data":{"values":[{"t":"(Piotrowski et al. 2005)","age":-14.66,"v":-7.377}]},"mark":{"type":"text","fontSize":48,"fontStyle":"italic","color":"#E46C0A","align":"center","baseline":"middle","angle":270},"encoding":{"x":{"field":"age","type":"quantitative","scale":{"domain":[0,250],"range":[254,2658],"nice":false,"zero":false},"axis":null},"y":{"field":"v","type":"quantitative","scale":{"domain":[-10,-5],"range":[48,679],"nice":false,"zero":false},"axis":null},"text":{"field":"t"}}},
{"data":{"values":[{"t":"δ¹⁸O","age":-25.17,"v":-1.252}]},"mark":{"type":"text","fontSize":56,"fontWeight":"bold","color":"#4F81BD","align":"left","baseline":"middle"},"encoding":{"x":{"field":"age","type":"quantitative","scale":{"domain":[0,250],"range":[254,2658],"nice":false,"zero":false},"axis":null},"y":{"field":"v","type":"quantitative","scale":{"domain":[-10,-5],"range":[48,679],"nice":false,"zero":false},"axis":null},"text":{"field":"t"}}},
{"data":{"values":[{"t":"(benthic","age":-25.17,"v":-0.713},{"t":"forams)","age":-25.17,"v":-0.365}]},"mark":{"type":"text","fontSize":33,"fontWeight":"bold","color":"#4F81BD","align":"left","baseline":"middle"},"encoding":{"x":{"field":"age","type":"quantitative","scale":{"domain":[0,250],"range":[254,2658],"nice":false,"zero":false},"axis":null},"y":{"field":"v","type":"quantitative","scale":{"domain":[-10,-5],"range":[48,679],"nice":false,"zero":false},"axis":null},"text":{"field":"t"}}},
{"data":{"name":"bandsBot"},"mark":{"type":"rect","color":"#F2F2F2","xOffset":-16,"x2Offset":16},"encoding":{"x":{"field":"start","type":"quantitative","scale":{"domain":[0,220],"range":[276,2386],"nice":false,"zero":false},"axis":null},"x2":{"field":"end"},"y":{"datum":4.99,"type":"quantitative","scale":{"domain":[2.5,5],"range":[2098,2955],"nice":false,"zero":false},"axis":null},"y2":{"datum":1.2}}},
{"data":{"name":"bandsBot"},"mark":{"type":"rect","color":"#D9D9D9"},"encoding":{"x":{"field":"start","type":"quantitative","scale":{"domain":[0,220],"range":[276,2386],"nice":false,"zero":false},"axis":null},"x2":{"field":"end"},"y":{"datum":4.99,"type":"quantitative","scale":{"domain":[2.5,5],"range":[2098,2955],"nice":false,"zero":false},"axis":null},"y2":{"datum":1.2}}},
{"data":{"name":"greenBot"},"mark":{"type":"line","color":"#9DC25C","strokeWidth":7},"encoding":{"x":{"field":"age","type":"quantitative","scale":{"domain":[0,220],"range":[276,2386],"nice":false,"zero":false},"axis":null},"y":{"field":"v","type":"quantitative","scale":{"domain":[-1.5,0.5],"range":[2969,2225],"nice":false,"zero":false},"axis":{"orient":"right","offset":-409,"values":[-1.5,-1.3,-1.1,-0.9,-0.7,-0.5,-0.3,-0.1,0.1,0.3,0.5],"labelExpr":"replace(replace(format(datum.value,'.1f'),'−','-'),'.',',')","title":null,"labelColor":"#9BBB59","labelFontSize":44,"labelFontWeight":"bold","tickSize":16,"tickWidth":2,"tickColor":"#333333","domainColor":"#333333","domainWidth":2.5,"labelPadding":30}}}},
{"data":{"name":"greenBot"},"mark":{"type":"point","shape":"diamond","filled":true,"color":"#9DC25C","size":60,"opacity":1},"encoding":{"x":{"field":"age","type":"quantitative","scale":{"domain":[0,220],"range":[276,2386],"nice":false,"zero":false},"axis":null},"y":{"field":"v","type":"quantitative","scale":{"domain":[-1.5,0.5],"range":[2969,2225],"nice":false,"zero":false},"axis":null}}},
{"data":{"name":"blueBot"},"mark":{"type":"line","color":"#5B9BD5","strokeWidth":7},"encoding":{"x":{"field":"age","type":"quantitative","scale":{"domain":[0,220],"range":[276,2386],"nice":false,"zero":false},"axis":{"orient":"bottom","offset":-99,"values":[0,10,20,30,40,50,60,70,80,90,100,110,120,130,140,150,160,170,180,190,200,210,220],"labelExpr":"datum.value % 50 === 0 ? datum.label : ''","title":"Age (ka)","titleX":1475,"titleY":73,"titleBaseline":"middle","titleAlign":"center","titleFontSize":52,"titleFontWeight":"bold","titleColor":"#000000","labelFontSize":46,"labelFontWeight":"bold","labelColor":"#000000","labelBaseline":"middle","labelPadding":55,"tickSize":14,"tickWidth":2,"tickColor":"#999999","domainColor":"#999999","domainWidth":3}},"y":{"field":"v","type":"quantitative","scale":{"domain":[2.5,5],"range":[2098,2955],"nice":false,"zero":false},"axis":{"orient":"left","offset":-276,"values":[2.5,3,3.5,4,4.5,5],"labelExpr":"replace(replace(format(datum.value,'~g'),'−','-'),'.',',')","title":null,"labelColor":"#4F81BD","labelFontSize":44,"labelFontWeight":"bold","tickSize":17,"tickWidth":2,"tickColor":"#A6A6A6","domainColor":"#A6A6A6","domainWidth":2.5,"labelPadding":32}}}},
{"data":{"name":"blueBot"},"mark":{"type":"point","shape":"diamond","filled":true,"color":"#5B9BD5","size":60,"opacity":1},"encoding":{"x":{"field":"age","type":"quantitative","scale":{"domain":[0,220],"range":[276,2386],"nice":false,"zero":false},"axis":null},"y":{"field":"v","type":"quantitative","scale":{"domain":[2.5,5],"range":[2098,2955],"nice":false,"zero":false},"axis":null}}},
{"data":{"name":"redBot"},"mark":{"type":"errorbar","ticks":true,"size":15,"thickness":2,"color":"#222222"},"encoding":{"x":{"field":"age","type":"quantitative","scale":{"domain":[0,220],"range":[276,2386],"nice":false,"zero":false},"axis":null},"y":{"field":"v","type":"quantitative","scale":{"domain":[-7,-3.5],"range":[1890,2701],"nice":false,"zero":false},"axis":null},"yError":{"field":"e"}}},
{"data":{"name":"redBot"},"mark":{"type":"line","color":"#D5685E","strokeWidth":8},"encoding":{"x":{"field":"age","type":"quantitative","scale":{"domain":[0,220],"range":[276,2386],"nice":false,"zero":false},"axis":null},"y":{"field":"v","type":"quantitative","scale":{"domain":[-7,-3.5],"range":[1890,2701],"nice":false,"zero":false},"axis":{"orient":"right","offset":-674,"values":[-7,-6.75,-6.5,-6.25,-6,-5.75,-5.5,-5.25,-5,-4.75,-4.5,-4.25,-4,-3.75,-3.5],"labelExpr":"abs(datum.value*2-round(datum.value*2))<0.001 ? replace(replace(format(datum.value,'.1f'),'−','-'),'.',',') : ''","title":null,"labelColor":"#C0504D","labelFontSize":44,"labelFontWeight":"bold","tickSize":16,"tickWidth":2,"tickColor":"#333333","domainColor":"#333333","domainWidth":2.5,"labelPadding":31}}}},
{"data":{"name":"redBot"},"mark":{"type":"point","shape":"diamond","filled":true,"color":"#D6665B","stroke":"#111111","strokeWidth":3.5,"size":1350,"opacity":1},"encoding":{"x":{"field":"age","type":"quantitative","scale":{"domain":[0,220],"range":[276,2386],"nice":false,"zero":false},"axis":null},"y":{"field":"v","type":"quantitative","scale":{"domain":[-7,-3.5],"range":[1890,2701],"nice":false,"zero":false},"axis":null}}},
{"data":{"values":[{"t":"Last","age":16.16,"v":-7.868},{"t":"Glacial","age":16.16,"v":-7.6}]},"mark":{"type":"text","fontSize":56,"fontWeight":"bold","color":"#000000","align":"left","baseline":"middle"},"encoding":{"x":{"field":"age","type":"quantitative","scale":{"domain":[0,220],"range":[276,2386],"nice":false,"zero":false},"axis":null},"y":{"field":"v","type":"quantitative","scale":{"domain":[-7,-3.5],"range":[1890,2701],"nice":false,"zero":false},"axis":null},"text":{"field":"t"}}},
{"data":{"values":[{"t":"MIS 4","age":67.67,"v":-7.773},{"t":"MIS 6","age":162.04,"v":-7.755}]},"mark":{"type":"text","fontSize":62,"fontWeight":"bold","color":"#000000","align":"center","baseline":"middle"},"encoding":{"x":{"field":"age","type":"quantitative","scale":{"domain":[0,220],"range":[276,2386],"nice":false,"zero":false},"axis":null},"y":{"field":"v","type":"quantitative","scale":{"domain":[-7,-3.5],"range":[1890,2701],"nice":false,"zero":false},"axis":null},"text":{"field":"t"}}},
{"data":{"values":[{"t":"SO213-60-1","age":227.84,"v":-7.751}]},"mark":{"type":"text","fontSize":102,"fontWeight":"bold","color":"#000000","align":"center","baseline":"middle"},"encoding":{"x":{"field":"age","type":"quantitative","scale":{"domain":[0,220],"range":[276,2386],"nice":false,"zero":false},"axis":null},"y":{"field":"v","type":"quantitative","scale":{"domain":[-7,-3.5],"range":[1890,2701],"nice":false,"zero":false},"axis":null},"text":{"field":"t"}}},
{"data":{"values":[{"t":"(3471 m water depth)","age":225.44,"v":-7.358}]},"mark":{"type":"text","fontSize":48,"fontWeight":"bold","color":"#000000","align":"center","baseline":"middle"},"encoding":{"x":{"field":"age","type":"quantitative","scale":{"domain":[0,220],"range":[276,2386],"nice":false,"zero":false},"axis":null},"y":{"field":"v","type":"quantitative","scale":{"domain":[-7,-3.5],"range":[1890,2701],"nice":false,"zero":false},"axis":null},"text":{"field":"t"}}},
{"data":{"values":[{"t":"εNd","age":242.13,"v":-6.763}]},"mark":{"type":"text","fontSize":55,"fontWeight":"bold","color":"#C00000","align":"center","baseline":"middle"},"encoding":{"x":{"field":"age","type":"quantitative","scale":{"domain":[0,220],"range":[276,2386],"nice":false,"zero":false},"axis":null},"y":{"field":"v","type":"quantitative","scale":{"domain":[-7,-3.5],"range":[1890,2701],"nice":false,"zero":false},"axis":null},"text":{"field":"t"}}},
{"data":{"values":[{"t":"(‘Uncleaned’","age":249.32,"v":-6.776},{"t":"planktonic","age":249.32,"v":-6.534},{"t":"forams)","age":250.36,"v":-6.284}]},"mark":{"type":"text","fontSize":41,"fontWeight":"bold","color":"#C0504D","align":"left","baseline":"middle"},"encoding":{"x":{"field":"age","type":"quantitative","scale":{"domain":[0,220],"range":[276,2386],"nice":false,"zero":false},"axis":null},"y":{"field":"v","type":"quantitative","scale":{"domain":[-7,-3.5],"range":[1890,2701],"nice":false,"zero":false},"axis":null},"text":{"field":"t"}}},
{"data":{"values":[{"t":"δ¹³C","age":254.22,"v":-5.856}]},"mark":{"type":"text","fontSize":58,"fontWeight":"bold","color":"#9BBB59","align":"center","baseline":"middle"},"encoding":{"x":{"field":"age","type":"quantitative","scale":{"domain":[0,220],"range":[276,2386],"nice":false,"zero":false},"axis":null},"y":{"field":"v","type":"quantitative","scale":{"domain":[-7,-3.5],"range":[1890,2701],"nice":false,"zero":false},"axis":null},"text":{"field":"t"}}},
{"data":{"values":[{"t":"(benthic","age":262.25,"v":-5.882},{"t":"forams)","age":262.25,"v":-5.697}]},"mark":{"type":"text","fontSize":31,"fontWeight":"bold","color":"#9BBB59","align":"left","baseline":"middle"},"encoding":{"x":{"field":"age","type":"quantitative","scale":{"domain":[0,220],"range":[276,2386],"nice":false,"zero":false},"axis":null},"y":{"field":"v","type":"quantitative","scale":{"domain":[-7,-3.5],"range":[1890,2701],"nice":false,"zero":false},"axis":null},"text":{"field":"t"}}},
{"data":{"values":[{"t":"δ¹⁸O","age":-23.88,"v":-4.169}]},"mark":{"type":"text","fontSize":56,"fontWeight":"bold","color":"#3A8DBF","align":"left","baseline":"middle"},"encoding":{"x":{"field":"age","type":"quantitative","scale":{"domain":[0,220],"range":[276,2386],"nice":false,"zero":false},"axis":null},"y":{"field":"v","type":"quantitative","scale":{"domain":[-7,-3.5],"range":[1890,2701],"nice":false,"zero":false},"axis":null},"text":{"field":"t"}}},
{"data":{"values":[{"t":"(benthic","age":-23.98,"v":-3.936},{"t":"forams)","age":-23.98,"v":-3.754}]},"mark":{"type":"text","fontSize":33,"fontWeight":"bold","color":"#4F81BD","align":"left","baseline":"middle"},"encoding":{"x":{"field":"age","type":"quantitative","scale":{"domain":[0,220],"range":[276,2386],"nice":false,"zero":false},"axis":null},"y":{"field":"v","type":"quantitative","scale":{"domain":[-7,-3.5],"range":[1890,2701],"nice":false,"zero":false},"axis":null},"text":{"field":"t"}}}
],
"resolve":{"scale":{"x":"independent","y":"independent"},"axis":{"x":"independent","y":"independent"}}
}
